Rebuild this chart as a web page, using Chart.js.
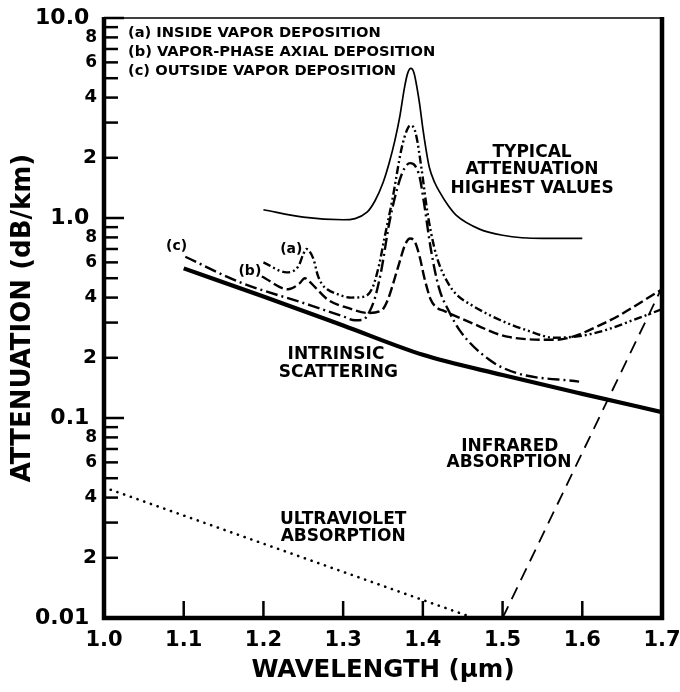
<!DOCTYPE html>
<html>
<head>
<meta charset="utf-8">
<title>Attenuation vs wavelength</title>
<script src="https://cdn.jsdelivr.net/npm/chart.js@4.4.1/dist/chart.umd.min.js"></script>
<style>
  html, body { margin: 0; padding: 0; background: #fff; }
  canvas { display: block; }
</style>
</head>
<body>
<canvas id="graficoAtenuacao" width="680" height="692"></canvas>
<script>
// wavelength (um) and attenuation (dB/km)
const typicalWl = [1.200, 1.250, 1.300, 1.330, 1.340, 1.350, 1.358, 1.365, 1.371, 1.377, 1.381, 1.385, 1.389, 1.393, 1.396, 1.400, 1.404, 1.408, 1.415, 1.421, 1.432, 1.442, 1.471, 1.500, 1.550, 1.600];
const typicalAtt = [1.10, 1.01, 0.98, 1.07, 1.22, 1.5, 1.9, 2.45, 3.2, 4.5, 5.3, 5.6, 5.3, 4.4, 3.7, 2.8, 2.2, 1.8, 1.5, 1.35, 1.15, 1.03, 0.88, 0.82, 0.79, 0.79];

const insideWl = [1.200, 1.229, 1.244, 1.250, 1.254, 1.258, 1.263, 1.268, 1.273, 1.280, 1.290, 1.310, 1.327, 1.337, 1.345, 1.352, 1.362, 1.373, 1.380, 1.384, 1.388, 1.392, 1.398, 1.406, 1.414, 1.421, 1.432, 1.442, 1.462, 1.496, 1.530, 1.565, 1.600, 1.629, 1.665, 1.700];
const insideAtt = [0.60, 0.535, 0.575, 0.66, 0.70, 0.68, 0.62, 0.52, 0.47, 0.44, 0.42, 0.40, 0.405, 0.45, 0.58, 0.80, 1.25, 2.2, 2.75, 2.9, 2.85, 2.55, 1.8, 1.05, 0.72, 0.58, 0.47, 0.415, 0.365, 0.31, 0.275, 0.252, 0.258, 0.275, 0.31, 0.35];

const axialWl = [1.198, 1.231, 1.245, 1.252, 1.258, 1.265, 1.281, 1.306, 1.331, 1.348, 1.356, 1.369, 1.378, 1.384, 1.390, 1.396, 1.402, 1.410, 1.418, 1.425, 1.460, 1.504, 1.565, 1.629, 1.700];
const axialAtt = [0.51, 0.44, 0.47, 0.50, 0.48, 0.45, 0.39, 0.355, 0.335, 0.345, 0.39, 0.57, 0.74, 0.79, 0.76, 0.64, 0.50, 0.39, 0.355, 0.345, 0.30, 0.256, 0.246, 0.30, 0.44];

const outsideWl = [1.102, 1.169, 1.260, 1.300, 1.315, 1.325, 1.333, 1.340, 1.348, 1.358, 1.371, 1.378, 1.384, 1.390, 1.396, 1.402, 1.410, 1.420, 1.433, 1.446, 1.483, 1.517, 1.596];
const outsideAtt = [0.64, 0.48, 0.365, 0.322, 0.308, 0.31, 0.34, 0.40, 0.55, 0.95, 1.55, 1.8, 1.88, 1.83, 1.6, 1.15, 0.70, 0.45, 0.34, 0.275, 0.196, 0.168, 0.152];

const scatterWl = [1.1, 1.2, 1.3, 1.4, 1.5, 1.6, 1.7];
const scatterAtt = [0.56, 0.405, 0.29, 0.207, 0.164, 0.132, 0.107];

const uvWl = [1.0, 1.464];
const uvAtt = [0.045, 0.01];

const irWl = [1.5, 1.7];
const irAtt = [0.01, 0.45];

const xTicks = [1.0, 1.1, 1.2, 1.3, 1.4, 1.5, 1.6, 1.7];
const yTicks = [0.01, 0.02, 0.03, 0.04, 0.05, 0.06, 0.07, 0.08, 0.09,
                0.1, 0.2, 0.3, 0.4, 0.5, 0.6, 0.7, 0.8, 0.9,
                1, 2, 3, 4, 5, 6, 7, 8, 9, 10];

// text written inside the plot
const notas = [
  { text: "(a) INSIDE VAPOR DEPOSITION", wl: 1.030, att: 8.41, size: 14.7, align: "left" },
  { text: "(b) VAPOR-PHASE AXIAL DEPOSITION", wl: 1.030, att: 6.76, size: 14.7, align: "left" },
  { text: "(c) OUTSIDE VAPOR DEPOSITION", wl: 1.030, att: 5.43, size: 14.7, align: "left" },
  { text: "(c)", wl: 1.091, att: 0.718, size: 14, align: "center" },
  { text: "(a)", wl: 1.235, att: 0.698, size: 14, align: "center" },
  { text: "(b)", wl: 1.183, att: 0.539, size: 14, align: "center" },
  { text: "TYPICAL", wl: 1.537, att: 2.13, size: 17, align: "center" },
  { text: "ATTENUATION", wl: 1.537, att: 1.74, size: 17, align: "center" },
  { text: "HIGHEST VALUES", wl: 1.537, att: 1.41, size: 17, align: "center" },
  { text: "INTRINSIC", wl: 1.291, att: 0.2065, size: 17, align: "center" },
  { text: "SCATTERING", wl: 1.294, att: 0.168, size: 17, align: "center" },
  { text: "INFRARED", wl: 1.509, att: 0.0716, size: 17, align: "center" },
  { text: "ABSORPTION", wl: 1.508, att: 0.0596, size: 17, align: "center" },
  { text: "ULTRAVIOLET", wl: 1.300, att: 0.0309, size: 17, align: "center" },
  { text: "ABSORPTION", wl: 1.300, att: 0.0254, size: 17, align: "center" }
];

function pontos(wl, att) {
  return wl.map((w, i) => ({ x: w, y: att[i] }));
}

function ehDecada(v) {
  const l = Math.log10(v);
  return Math.abs(l - Math.round(l)) < 1e-6;
}

function mantissa(v) {
  return Math.round(v / Math.pow(10, Math.floor(Math.log10(v) + 1e-9)));
}

const molduraPlugin = {
  id: "moldura",
  afterDatasetsDraw(chart) {
    const { ctx, chartArea: a, scales: { x, y } } = chart;
    ctx.save();
    ctx.strokeStyle = "#000";
    ctx.lineCap = "butt";

    ctx.lineWidth = 2.5;
    yTicks.forEach(function (v) {
      const py = y.getPixelForValue(v);
      const len = ehDecada(v) ? 20 : 14;
      ctx.beginPath();
      ctx.moveTo(a.left, py);
      ctx.lineTo(a.left + len, py);
      ctx.stroke();
    });
    xTicks.slice(1, -1).forEach(function (v) {
      const px = x.getPixelForValue(v);
      ctx.beginPath();
      ctx.moveTo(px, a.bottom);
      ctx.lineTo(px, a.bottom - 17);
      ctx.stroke();
    });

    ctx.lineWidth = 1.5;
    ctx.beginPath();
    ctx.moveTo(a.left, a.top);
    ctx.lineTo(a.right, a.top);
    ctx.stroke();

    ctx.lineWidth = 4.5;
    ctx.lineJoin = "miter";
    ctx.beginPath();
    ctx.moveTo(a.left, a.top - 1);
    ctx.lineTo(a.left, a.bottom);
    ctx.lineTo(a.right, a.bottom);
    ctx.lineTo(a.right, a.top - 1);
    ctx.stroke();
    ctx.restore();
  },
  afterDraw(chart) {
    const { ctx, scales: { x, y } } = chart;
    ctx.save();
    ctx.fillStyle = "#000";
    ctx.textBaseline = "middle";
    notas.forEach(function (n) {
      ctx.font = "bold " + n.size + "px 'DejaVu Sans'";
      ctx.textAlign = n.align;
      ctx.fillText(n.text, x.getPixelForValue(n.wl), y.getPixelForValue(n.att));
    });
    ctx.restore();
  }
};

Chart.defaults.font.family = "'DejaVu Sans', sans-serif";
Chart.defaults.color = "#000";

const linha = { pointRadius: 0, borderColor: "#000", fill: false, cubicInterpolationMode: "monotone" };

const ctx = document.getElementById("graficoAtenuacao").getContext("2d");

const grafico = new Chart(ctx, {
  type: "line",
  data: {
    datasets: [
      Object.assign({ label: "Typical highest", data: pontos(typicalWl, typicalAtt), borderWidth: 1.7 }, linha),
      Object.assign({ label: "(a) Inside vapor deposition", data: pontos(insideWl, insideAtt), borderWidth: 2.4, borderDash: [8, 3, 2, 3, 2, 3] }, linha),
      Object.assign({ label: "(b) Vapor-phase axial deposition", data: pontos(axialWl, axialAtt), borderWidth: 2.4, borderDash: [10, 4] }, linha),
      Object.assign({ label: "(c) Outside vapor deposition", data: pontos(outsideWl, outsideAtt), borderWidth: 2.4, borderDash: [12, 4, 2, 4] }, linha),
      Object.assign({ label: "Intrinsic scattering", data: pontos(scatterWl, scatterAtt), borderWidth: 4.2 }, linha),
      Object.assign({ label: "Ultraviolet absorption", data: pontos(uvWl, uvAtt), borderWidth: 2.6, borderDash: [0.1, 7], borderCapStyle: "round" }, linha),
      Object.assign({ label: "Infrared absorption", data: pontos(irWl, irAtt), borderWidth: 1.8, borderDash: [13, 8] }, linha)
    ]
  },
  options: {
    responsive: false,
    animation: false,
    layout: { padding: { top: 18, right: 18, bottom: 0, left: 0 } },
    plugins: {
      legend: { display: false },
      tooltip: { enabled: false }
    },
    scales: {
      x: {
        type: "linear",
        min: 1.0,
        max: 1.7,
        grid: { display: false, drawTicks: false },
        border: { display: false },
        afterBuildTicks: function (scale) {
          scale.ticks = xTicks.map(v => ({ value: v }));
        },
        afterFit: function (scale) {
          scale.height = 74;
          scale.paddingLeft = 0;
          scale.paddingRight = 0;
        },
        ticks: {
          autoSkip: false,
          maxRotation: 0,
          padding: 10,
          font: { size: 21, weight: "bold" },
          callback: v => Number(v).toFixed(1)
        },
        title: {
          display: true,
          text: "WAVELENGTH (\u03bcm)",
          font: { size: 24.5, weight: "bold" },
          padding: { top: 0, bottom: 7 }
        }
      },
      y: {
        type: "logarithmic",
        min: 0.01,
        max: 10,
        grid: { display: false, drawTicks: false },
        border: { display: false },
        afterBuildTicks: function (scale) {
          scale.ticks = yTicks.map(v => ({ value: v }));
        },
        afterFit: function (scale) {
          scale.width = 104;
          scale.paddingTop = 0;
          scale.paddingBottom = 0;
        },
        ticks: {
          autoSkip: false,
          padding: 7,
          font: function (c) {
            const v = c.tick ? c.tick.value : 1;
            if (ehDecada(v)) return { size: 22, weight: "bold" };
            const m = mantissa(v);
            if (m === 2) return { size: 20, weight: "bold" };
            if (m === 4) return { size: 18, weight: "bold" };
            return { size: 17, weight: "bold" };
          },
          callback: function (v) {
            if (ehDecada(v)) {
              if (v >= 10) return "10.0 ";
              if (v >= 1) return "1.0 ";
              if (v >= 0.1) return "0.1 ";
              return "0.01 ";
            }
            const m = mantissa(v);
            return m % 2 === 0 ? String(m) : "";
          }
        },
        title: {
          display: true,
          text: "ATTENUATION (dB/km)",
          font: { size: 26, weight: "bold" },
          padding: { top: 8, bottom: 0 }
        }
      }
    }
  },
  plugins: [molduraPlugin]
});
</script>
</body>
</html>
